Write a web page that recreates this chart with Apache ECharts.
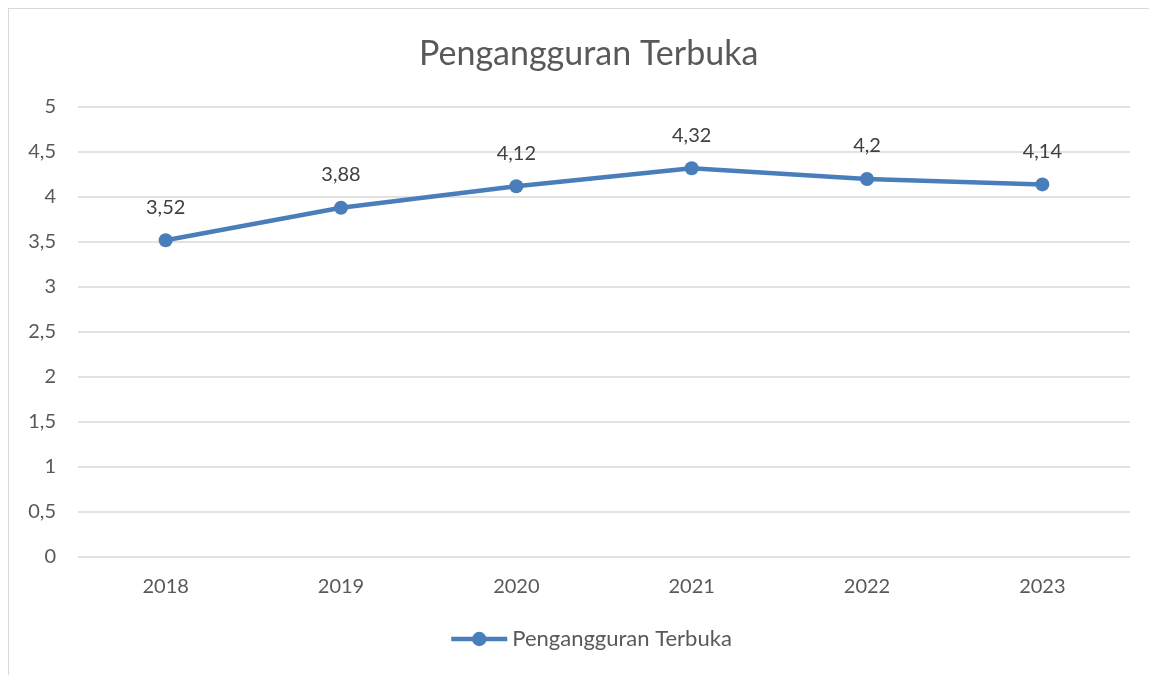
<!DOCTYPE html>
<html>
<head>
<meta charset="utf-8">
<script src="https://cdn.jsdelivr.net/npm/echarts@6/dist/echarts.min.js"></script>
<style>
  html, body { margin: 0; padding: 0; background: #fff; }
  #frame { position: absolute; left: 8px; top: 8px; width: 1141px; height: 667px;
           border-left: 1px solid #d9d9d9; border-top: 1px solid #d9d9d9; box-sizing: border-box; }
  #chart { position: absolute; left: 0; top: 0; width: 1149px; height: 675px; }
</style>
</head>
<body>
<div id="frame"></div>
<div id="chart"></div>
<script>
var years = ['2018', '2019', '2020', '2021', '2022', '2023'];
var unemployment = [3.52, 3.88, 4.12, 4.32, 4.2, 4.14];
var seriesName = 'Pengangguran Terbuka';

function comma(v) { return String(v).replace('.', ','); }

var myChart = echarts.init(document.getElementById('chart'));

var option = {
  animation: false,
  textStyle: { fontFamily: 'Lato, "Open Sans", sans-serif' },
  title: {
    text: 'Pengangguran Terbuka',
    left: 414,
    top: 32,
    textStyle: { color: '#595959', fontSize: 34, fontWeight: 'normal' }
  },
  legend: {
    bottom: 20,
    left: 444,
    itemWidth: 56,
    itemHeight: 18,
    lineStyle: { width: 4.5 },
    textStyle: { color: '#595959', fontSize: 22 },
    data: [seriesName]
  },
  grid: { left: 78, top: 107, width: 1052, height: 450 },
  xAxis: {
    type: 'category',
    data: years,
    axisLine: { show: false },
    axisTick: { show: false },
    axisLabel: { color: '#595959', fontSize: 20, margin: 20 }
  },
  yAxis: {
    type: 'value',
    min: 0,
    max: 5,
    interval: 0.5,
    axisLine: { show: false },
    axisTick: { show: false },
    axisLabel: { color: '#595959', fontSize: 20, margin: 22, formatter: function (v) { return comma(v); } },
    splitLine: { lineStyle: { color: '#d9d9d9', width: 1.5 } }
  },
  series: [{
    name: seriesName,
    type: 'line',
    data: unemployment,
    symbol: 'circle',
    symbolSize: 14,
    lineStyle: { color: '#4a7ebb', width: 4.5 },
    itemStyle: { color: '#4a7ebb' },
    label: {
      show: true,
      position: 'top',
      distance: 16,
      color: '#404040',
      fontSize: 20,
      formatter: function (p) { return comma(p.value); }
    }
  }]
};
myChart.setOption(option);
</script>
</body>
</html>
